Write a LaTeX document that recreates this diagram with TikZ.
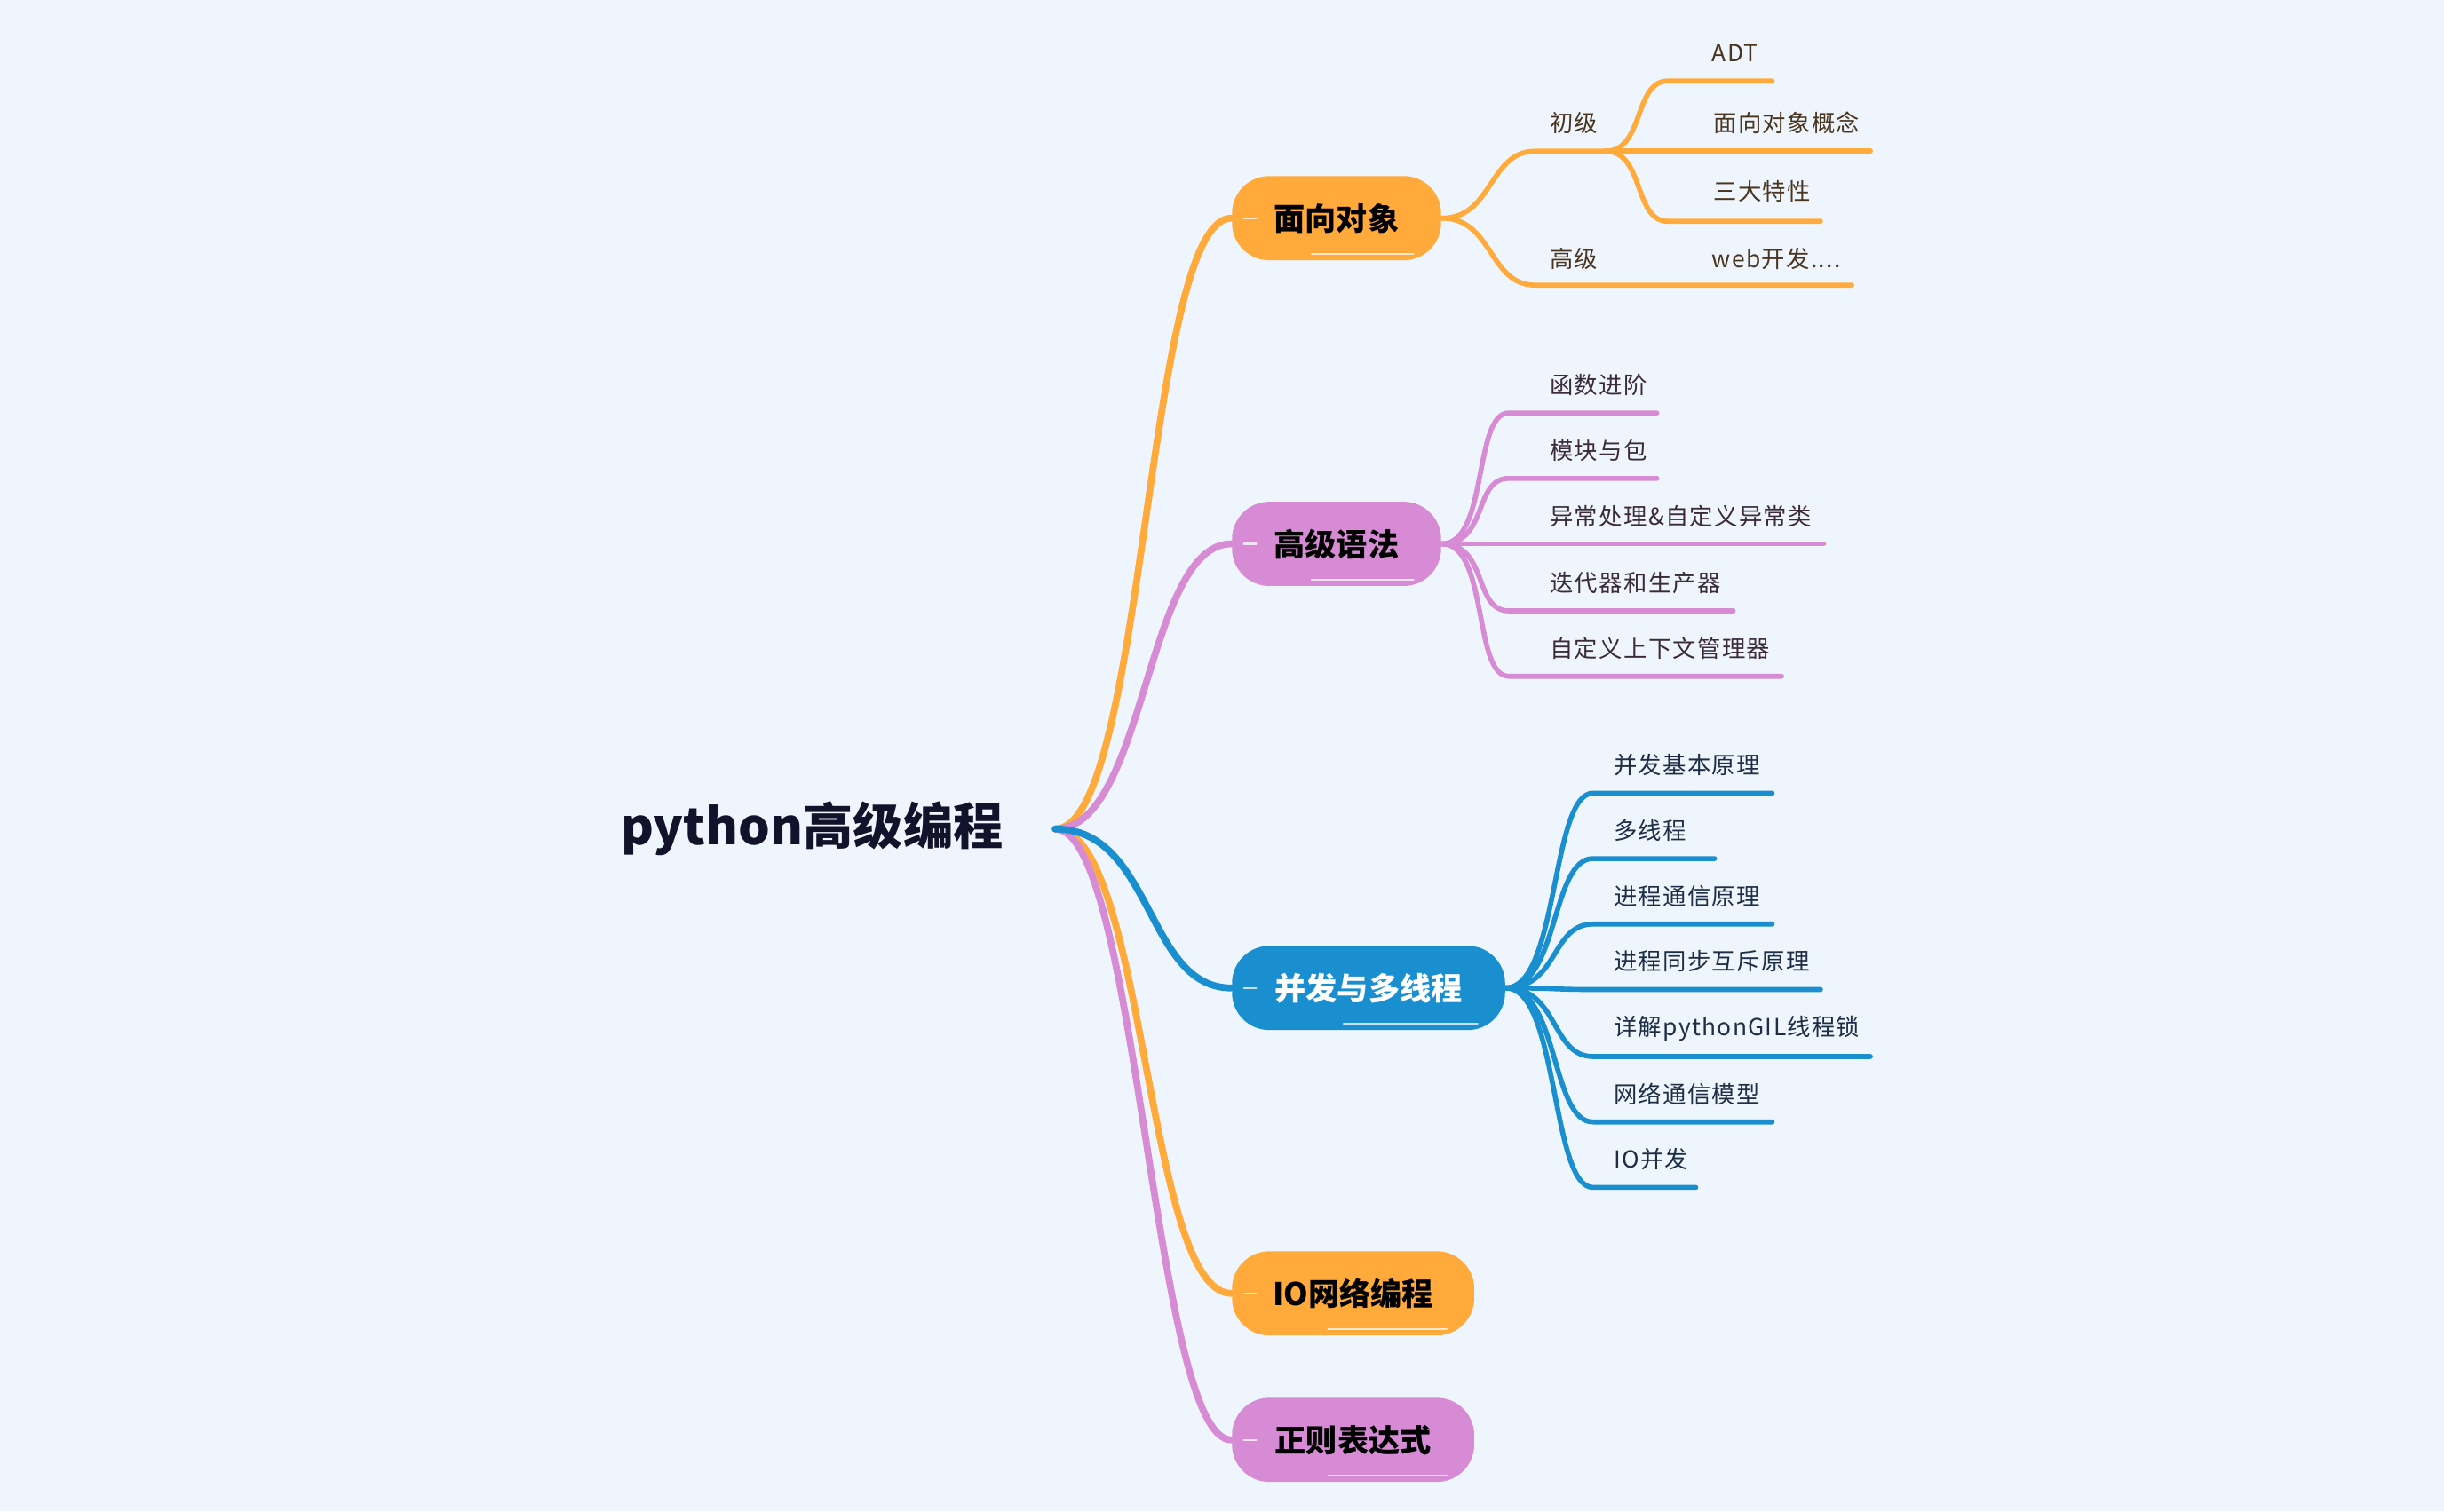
\documentclass[tikz,border=0pt]{standalone}
\usepackage{fontspec}
\setmainfont{Noto Sans CJK SC}
\newfontfamily\leaffont{Noto Sans CJK SC}[LetterSpace=5]
\definecolor{bg}{HTML}{EEF5FC}
\definecolor{oc}{HTML}{FFAA3A}
\definecolor{pc}{HTML}{D68BD4}
\definecolor{bc}{HTML}{1A8FD0}
\definecolor{ot}{HTML}{4A3520}
\definecolor{pt}{HTML}{3A2A3A}
\definecolor{bt}{HTML}{1E2E45}
\definecolor{rt}{HTML}{12122A}
\tikzset{
  mainbox/.style={rectangle, rounded corners=12pt, minimum height=27pt, inner sep=0pt,
     font=\fontsize{10pt}{12pt}\selectfont\bfseries, anchor=west},
  leaf/.style={inner sep=0pt, anchor=west, font=\leaffont\fontsize{7.5pt}{9pt}\selectfont},
  mainline/.style={line width=2.2pt, line cap=round},
  subline/.style={line width=1.6pt, line cap=round},
  gloss/.style={white, opacity=0.75, line width=0.6pt, line cap=round}
}
\begin{document}
\begin{tikzpicture}[x=0.1755mm, y=-0.1755mm]
\fill[bg] (0,0) rectangle (1568,970);
\useasboundingbox (0,0) rectangle (1568,970);

% root
\node[font=\fontsize{16pt}{18pt}\selectfont\bfseries, text=rt, inner sep=0pt] (root) at (521,532) {python高级编程};
\coordinate (rj) at (677,532);

% main nodes
\node[mainbox, fill=oc, minimum width=67pt, text=black] (mA) at (790,140) {面向对象};
\node[mainbox, fill=pc, minimum width=67pt, text=black] (mB) at (790,349) {高级语法};
\node[mainbox, fill=bc, minimum width=87.5pt, text=white] (mC) at (790,634) {并发与多线程};
\node[mainbox, fill=oc, minimum width=77.6pt, text=black] (mD) at (790,830) {IO网络编程};
\node[mainbox, fill=pc, minimum width=77.6pt, text=black] (mE) at (790,924) {正则表达式};

\foreach \m in {mA,mB,mC,mD,mE}{
  \draw[gloss] ([xshift=-8pt,yshift=2.2pt]\m.south) -- ([xshift=-9pt,yshift=2.2pt]\m.south east);
  \draw[gloss] ([xshift=4pt]\m.west) -- ([xshift=8pt]\m.west);
}

% main branches
\draw[mainline, oc] (rj) .. controls (735,532) and (735,140) .. (mA.west);
\draw[mainline, oc] (rj) .. controls (735,532) and (735,830) .. (mD.west);
\draw[mainline, pc] (rj) .. controls (735,532) and (735,349) .. (mB.west);
\draw[mainline, pc] (rj) .. controls (730,532) and (740,924) .. (mE.west);
\draw[mainline, bc] (rj) .. controls (740,532) and (735,634) .. (mC.west);

% ---- 面向对象 ----
\coordinate (cjs) at (985,97);
\coordinate (cjj) at (1030,97);
\coordinate (gjs) at (985,183);
\coordinate (gje) at (1188,183);
\draw[subline, oc] (mA.east) .. controls (958,140) and (955,97) .. (cjs) -- (cjj);
\draw[subline, oc] (mA.east) .. controls (958,140) and (955,183) .. (gjs) -- (gje);
\node[leaf, text=ot] (cj) at (994,79) {初级};
\node[leaf, text=ot] (gj) at (994,166) {高级};

\coordinate (adts) at (1070,52);  \coordinate (adte) at (1137,52);
\coordinate (mxe) at (1200,97);
\coordinate (sdts) at (1070,142); \coordinate (sdte) at (1168,142);
\draw[subline, oc] (cjj) .. controls (1055,97) and (1048,52) .. (adts) -- (adte);
\draw[subline, oc] (cjj) -- (mxe);
\draw[subline, oc] (cjj) .. controls (1055,97) and (1048,142) .. (sdts) -- (sdte);
\node[leaf, text=ot] (adt) at (1098,34) {ADT};
\node[leaf, text=ot] (mx) at (1099,79) {面向对象概念};
\node[leaf, text=ot] (sd) at (1099,123) {三大特性};
\node[leaf, text=ot] (web) at (1098,166) {web开发....};

% ---- 高级语法 ----
\foreach \n/\t/\y/\xe in {g1/函数进阶/265/1063, g2/模块与包/307/1063, g4/迭代器和生产器/392/1112, g5/自定义上下文管理器/434/1143}{
  \coordinate (\n s) at (968,\y);
  \coordinate (\n e) at (\xe,\y);
  \draw[subline, pc] (mB.east) .. controls (955,349) and (945,\y) .. (\n s) -- (\n e);
  \node[leaf, text=pt] (\n) at (994,\y-18) {\t};
}
\coordinate (g3e) at (1170,349);
\draw[subline, pc] (mB.east) -- (g3e);
\node[leaf, text=pt] (g3) at (994,331) {异常处理\&自定义异常类};

% ---- 并发与多线程 ----
\foreach \n/\t/\y/\xe in {b1/并发基本原理/509/1137, b2/多线程/551/1100, b3/进程通信原理/593/1137, b4/进程同步互斥原理/635/1168, b5/详解pythonGIL线程锁/678/1200, b6/网络通信模型/720/1137, b7/IO并发/762/1088}{
  \coordinate (\n s) at (1022,\y);
  \coordinate (\n e) at (\xe,\y);
  \draw[subline, bc] (mC.east) .. controls (1000,634) and (995,\y) .. (\n s) -- (\n e);
  \node[leaf, text=bt] (\n) at (1035,\y-18) {\t};
}
\end{tikzpicture}
\end{document}
